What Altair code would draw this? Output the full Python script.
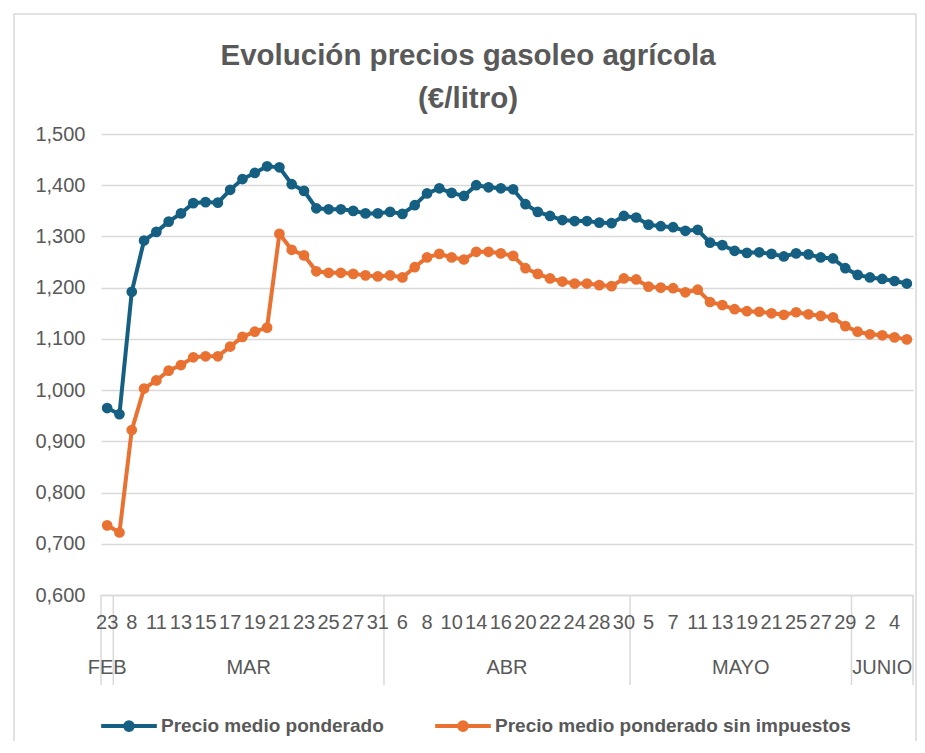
import altair as alt
import pandas as pd

# ---- data ----
days = ["23",
        "7", "8", "10", "11", "12", "13", "14", "15", "16", "17", "18", "19", "20", "21", "22", "23", "24", "25", "26", "27", "29", "31",
        "4", "6", "7", "8", "9", "10", "12", "14", "15", "16", "19", "20", "21", "22", "23", "24", "26", "28", "29", "30",
        "4", "5", "6", "7", "10", "11", "12", "13", "17", "19", "20", "21", "24", "25", "26", "27", "28", "29",
        "1", "2", "3", "4", "6"]
month_names = ["FEB", "MAR", "ABR", "MAYO", "JUNIO"]
month_counts = [1, 22, 20, 18, 5]

precio = [0.965, 0.953, 1.192, 1.292, 1.309, 1.329, 1.345, 1.365, 1.367, 1.366,
          1.391, 1.412, 1.424, 1.437, 1.435, 1.402, 1.389, 1.355, 1.353, 1.353,
          1.350, 1.345, 1.345, 1.348, 1.344, 1.361, 1.384, 1.394, 1.385, 1.379,
          1.400, 1.396, 1.394, 1.392, 1.363, 1.348, 1.340, 1.332, 1.330, 1.330,
          1.327, 1.326, 1.340, 1.337, 1.323, 1.320, 1.318, 1.311, 1.313, 1.288,
          1.283, 1.272, 1.268, 1.269, 1.266, 1.261, 1.267, 1.265, 1.259, 1.257,
          1.238, 1.225, 1.220, 1.217, 1.213, 1.208]
sin_impuestos = [0.736, 0.722, 0.922, 1.003, 1.019, 1.038, 1.049, 1.064, 1.066, 1.066,
                 1.085, 1.104, 1.114, 1.122, 1.305, 1.274, 1.263, 1.232, 1.229, 1.229,
                 1.227, 1.224, 1.222, 1.224, 1.220, 1.240, 1.259, 1.266, 1.259, 1.255,
                 1.270, 1.270, 1.267, 1.262, 1.238, 1.227, 1.218, 1.212, 1.208, 1.208,
                 1.205, 1.203, 1.218, 1.216, 1.202, 1.200, 1.199, 1.191, 1.196, 1.172,
                 1.166, 1.158, 1.154, 1.153, 1.150, 1.147, 1.152, 1.148, 1.145, 1.142,
                 1.125, 1.114, 1.109, 1.107, 1.103, 1.099]
series_names = ["Precio medio ponderado", "Precio medio ponderado sin impuestos"]
series_colors = ["#156082", "#E97132"]
y_ticks = [0.6, 0.7, 0.8, 0.9, 1.0, 1.1, 1.2, 1.3, 1.4, 1.5]
title_lines = ["Evolución precios gasoleo agrícola", "(€/litro)"]

# ---- tables ----
n = len(days)
rows = []
for i in range(n):
    rows.append({"idx": i, "value": precio[i], "serie": series_names[0], "order": 0})
    rows.append({"idx": i, "value": sin_impuestos[i], "serie": series_names[1], "order": 1})
df = pd.DataFrame(rows)

days_df = pd.DataFrame({"idx": list(range(0, n, 2)), "day": [days[i] for i in range(0, n, 2)]})

bounds = [-0.5]
for c in month_counts:
    bounds.append(bounds[-1] + c)
months_df = pd.DataFrame({
    "mes": month_names,
    "center": [(bounds[k] + bounds[k + 1]) / 2 for k in range(len(month_names))],
})
sep_df = pd.DataFrame({"b": bounds})

FONT = "Liberation Sans, Arial, sans-serif"
GREY = "#595959"
LIGHT = "#d9d9d9"
W, H = 812, 461

xscale = alt.Scale(domain=[-0.5, n - 0.5], nice=False, zero=False)

lines = alt.Chart(df).mark_line(
    point=alt.OverlayMarkDef(size=115, filled=True, opacity=1),
    strokeWidth=4,
).encode(
    x=alt.X("idx:Q", scale=xscale,
            axis=alt.Axis(labels=False, title=None, grid=False, ticks=False,
                          domainColor=LIGHT, domainWidth=1.5)),
    y=alt.Y("value:Q", scale=alt.Scale(domain=[0.6, 1.5], nice=False, zero=False),
            axis=alt.Axis(values=y_ticks,
                          labelExpr="replace(format(datum.value, '.3f'), '.', ',')",
                          title=None, grid=True, gridColor=LIGHT, gridWidth=1.5,
                          domain=False, ticks=False,
                          labelFont=FONT, labelFontSize=20, labelColor=GREY,
                          labelPadding=16)),
    color=alt.Color("serie:N",
                    scale=alt.Scale(domain=series_names, range=series_colors),
                    legend=alt.Legend(orient="none", direction="horizontal",
                                      legendX=-2, legendY=562, title=None,
                                      symbolType="M-1,0H1M-0.14,0a0.14,0.14 0 1,0 0.28,0a0.14,0.14 0 1,0 -0.28,0",
                                      symbolSize=3100, symbolStrokeWidth=4,
                                      labelFont=FONT, labelFontSize=19, labelFontWeight="bold",
                                      labelColor=GREY, labelOffset=2, columnPadding=43,
                                      labelLimit=600)),
    order=alt.Order("order:Q"),
    detail="serie:N",
)

day_text = alt.Chart(days_df).mark_text(
    font=FONT, fontSize=20, color=GREY, baseline="middle", align="center"
).encode(
    x=alt.X("idx:Q", scale=xscale),
    y=alt.value(H + 28),
    text="day:N",
)

seps = alt.Chart(sep_df).mark_rule(color=LIGHT, strokeWidth=1.5).encode(
    x=alt.X("b:Q", scale=xscale),
    y=alt.value(H),
    y2=alt.value(H + 90),
)

month_text = alt.Chart(months_df).mark_text(
    font=FONT, fontSize=20, color=GREY, baseline="middle", align="center"
).encode(
    x=alt.X("center:Q", scale=xscale),
    y=alt.value(H + 73),
    text="mes:N",
)

title1 = alt.Chart(pd.DataFrame({"t": [title_lines[0]]})).mark_text(
    font=FONT, fontSize=29.5, fontWeight="bold", color=GREY, baseline="middle", align="center"
).encode(x=alt.value(367), y=alt.value(-78), text="t:N")
title2 = alt.Chart(pd.DataFrame({"t": [title_lines[1]]})).mark_text(
    font=FONT, fontSize=29.5, fontWeight="bold", color=GREY, baseline="middle", align="center"
).encode(x=alt.value(367), y=alt.value(-35), text="t:N")

border = alt.Chart(pd.DataFrame({"k": [0]})).mark_rect(
    fill=None, stroke=LIGHT, strokeWidth=1.5
).encode(
    x=alt.value(-87), x2=alt.value(815), y=alt.value(-120), y2=alt.value(608)
)

chart = alt.layer(border, title1, title2, seps, day_text, month_text, lines).properties(
    width=W, height=H,
    autosize="none",
    padding={"left": 93, "top": 126, "right": 4, "bottom": 146},
).configure_view(stroke=None)

chart.save("out.html", embed_options={"renderer": "svg", "actions": False})
